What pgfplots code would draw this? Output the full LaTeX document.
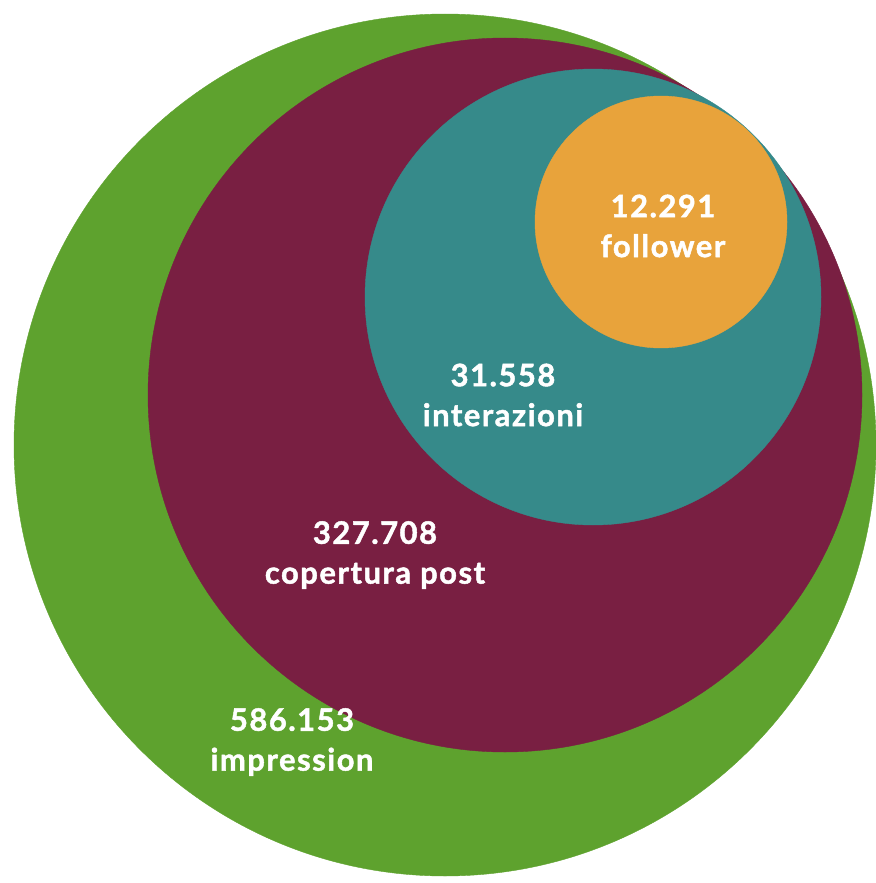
\documentclass[border=0pt]{standalone}
\usepackage{pgfplots}
\pgfplotsset{compat=1.18}
\usepackage{fontspec}
\setmainfont{Lato}[BoldFeatures={FakeBold=1.5, LetterSpace=5}]

\definecolor{cGreen}{HTML}{5EA22E}
\definecolor{cMaroon}{HTML}{791F42}
\definecolor{cTeal}{HTML}{368A8A}
\definecolor{cOrange}{HTML}{E8A33B}

\begin{document}
\begin{tikzpicture}
\begin{axis}[
    scale only axis,
    width=876bp, height=883bp,
    xmin=0, xmax=876, ymin=0, ymax=883,
    y dir=reverse,
    axis lines=none,
    clip=false,
]
% circles: centre and radius in pixels of the reference
\addplot[only marks, mark=*, mark size=431bp, color=cGreen] coordinates {(445,445)};
\addplot[only marks, mark=*, mark size=357bp, color=cMaroon] coordinates {(505,395)};
\addplot[only marks, mark=*, mark size=228bp, color=cTeal] coordinates {(593,297)};
\addplot[only marks, mark=*, mark size=126bp, color=cOrange] coordinates {(661,222)};

\coordinate (lf) at (axis cs:663,226);
\coordinate (li) at (axis cs:503,395);
\coordinate (lc) at (axis cs:375,555);
\coordinate (lm) at (axis cs:292,742);
\end{axis}
\begin{scope}[every node/.style={text=white, align=center,
        font=\bfseries\fontsize{31}{40}\selectfont}]
\node at (lf) {12.291\\follower};
\node at (li) {31.558\\interazioni};
\node at (lc) {327.708\\copertura post};
\node at (lm) {586.153\\impression};
\end{scope}
\pgfresetboundingbox
\path (current axis.south west) rectangle (current axis.north east);
\end{tikzpicture}
\end{document}
